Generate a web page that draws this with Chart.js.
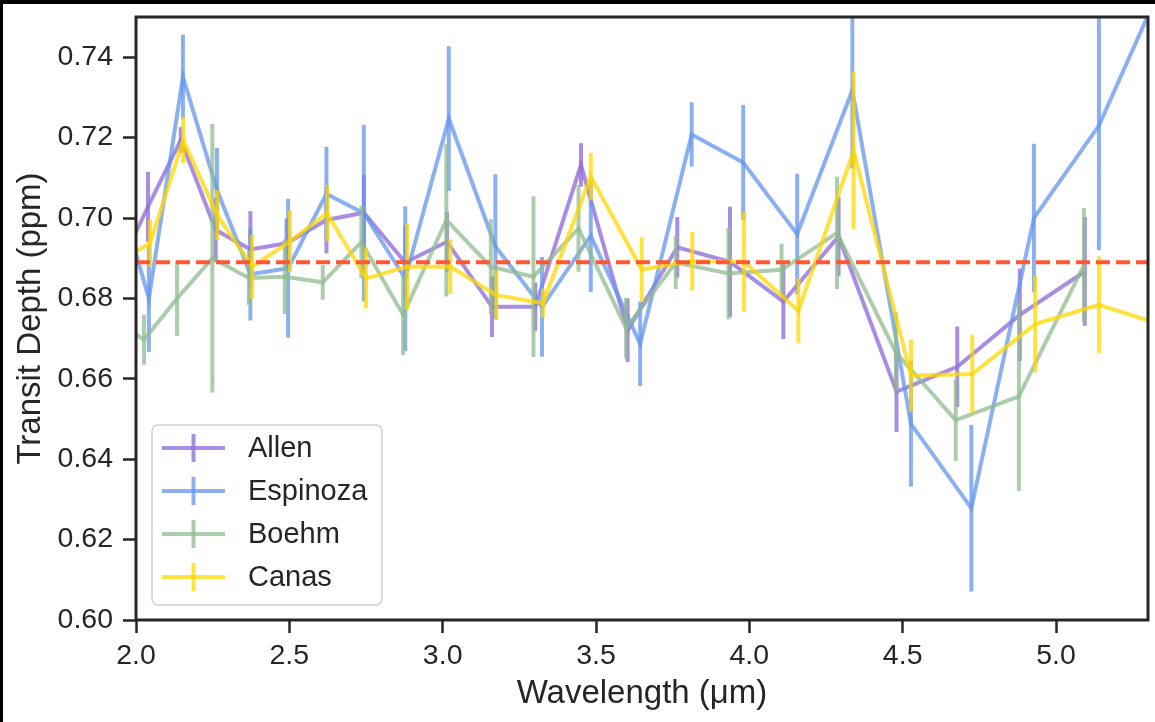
<!DOCTYPE html>
<html>
<head>
<meta charset="utf-8">
<script src="https://cdn.jsdelivr.net/npm/chart.js@4.4.1/dist/chart.umd.min.js"></script>
<style>
  html, body { margin: 0; padding: 0; background: #fff; }
  #wrap { position: relative; width: 1155px; height: 722px; overflow: hidden; background: #fff; }
  #wrap canvas { position: absolute; left: 0; top: 0; }
  .band-top { position: absolute; left: 0; top: 0; width: 1155px; height: 4px; background: #000; }
  .band-left { position: absolute; left: 0; top: 0; width: 3px; height: 722px; background: #000; }
</style>
</head>
<body>
<div id="wrap">
  <canvas id="spectrum" width="1155" height="722"></canvas>
  <div class="band-top"></div>
  <div class="band-left"></div>
</div>
<script>
// Transit depth per wavelength bin, four independent reductions
const allenWave  = [1.935, 2.039, 2.146, 2.260, 2.373, 2.491, 2.621, 2.743, 2.878, 3.014, 3.161, 3.302, 3.451, 3.603, 3.765, 3.937, 4.111, 4.291, 4.480, 4.678, 4.882, 5.094];
const allenDepth = [0.686, 0.7028, 0.7194, 0.697, 0.6922, 0.6937, 0.6995, 0.7013, 0.6889, 0.6941, 0.6779, 0.6779, 0.7132, 0.6721, 0.6927, 0.6891, 0.6792, 0.6954, 0.6568, 0.6630, 0.6759, 0.6867];
const allenErr   = [0.008, 0.0087, 0.0032, 0.008, 0.0095, 0.0062, 0.0083, 0.0094, 0.0092, 0.0075, 0.0075, 0.006, 0.0054, 0.0079, 0.0075, 0.0137, 0.0093, 0.0098, 0.010, 0.010, 0.0115, 0.0135];

const espinozaWave  = [1.940, 2.042, 2.153, 2.264, 2.373, 2.496, 2.621, 2.743, 2.878, 3.020, 3.172, 3.324, 3.483, 3.644, 3.812, 3.980, 4.156, 4.336, 4.527, 4.724, 4.928, 5.140, 5.356];
const espinozaDepth = [0.707, 0.680, 0.7351, 0.707, 0.6860, 0.6875, 0.7060, 0.7012, 0.6849, 0.7247, 0.6929, 0.6779, 0.6956, 0.6687, 0.7208, 0.7138, 0.6960, 0.7318, 0.6488, 0.6278, 0.700, 0.7230, 0.760];
const espinozaErr   = [0.012, 0.0133, 0.0105, 0.0104, 0.0115, 0.0173, 0.0117, 0.022, 0.018, 0.018, 0.018, 0.0124, 0.014, 0.0105, 0.008, 0.0143, 0.015, 0.0195, 0.0156, 0.0207, 0.0185, 0.031, 0.030];

const boehmWave  = [1.935, 2.026, 2.134, 2.249, 2.368, 2.485, 2.609, 2.735, 2.871, 3.012, 3.157, 3.296, 3.443, 3.598, 3.760, 3.932, 4.105, 4.286, 4.478, 4.673, 4.879, 5.091];
const boehmDepth = [0.6745, 0.6697, 0.680, 0.690, 0.6851, 0.6854, 0.6840, 0.6940, 0.6759, 0.6995, 0.6879, 0.6854, 0.6974, 0.6726, 0.6889, 0.6862, 0.6871, 0.6963, 0.6665, 0.6497, 0.6556, 0.6883];
const boehmErr   = [0.008, 0.0062, 0.0093, 0.0334, 0.0068, 0.0093, 0.0043, 0.009, 0.010, 0.019, 0.0118, 0.020, 0.0108, 0.0075, 0.0066, 0.0114, 0.0065, 0.014, 0.010, 0.0102, 0.0235, 0.0142];

const canasWave  = [1.940, 2.046, 2.154, 2.265, 2.379, 2.502, 2.623, 2.750, 2.884, 3.025, 3.175, 3.327, 3.483, 3.649, 3.814, 3.983, 4.160, 4.340, 4.527, 4.727, 4.932, 5.140, 5.356];
const canasDepth = [0.689, 0.6937, 0.7194, 0.7007, 0.6879, 0.6942, 0.7012, 0.6850, 0.6879, 0.6879, 0.6808, 0.6788, 0.7103, 0.6872, 0.6893, 0.6891, 0.6769, 0.7167, 0.6608, 0.6612, 0.6736, 0.6784, 0.6732];
const canasErr   = [0.006, 0.0058, 0.0058, 0.0062, 0.008, 0.0077, 0.007, 0.0075, 0.0108, 0.0068, 0.0062, 0.0036, 0.0059, 0.008, 0.0073, 0.0124, 0.0081, 0.0196, 0.009, 0.0098, 0.012, 0.012, 0.012];

// Mean transit depth, drawn as a dashed horizontal reference
const meanDepth = [0.689, 0.689];
const waveRange = [2.0, 5.3];

const waveTicks  = [2.0, 2.5, 3.0, 3.5, 4.0, 4.5, 5.0];
const depthTicks = [0.60, 0.62, 0.64, 0.66, 0.68, 0.70, 0.72, 0.74];
const depthRange = [0.60, 0.75];

const seriesNames = ['Allen', 'Espinoza', 'Boehm', 'Canas'];
const seriesColors = ['rgba(147,112,219,0.8)', 'rgba(100,149,237,0.75)', 'rgba(143,188,143,0.75)', 'rgba(255,215,0,0.75)'];

const FONT = "'Liberation Sans', Arial, Helvetica, sans-serif";
const INK = '#262626';
const LINE_W = 4;

function points(xs, ys) { return xs.map((x, i) => ({ x, y: ys[i] })); }

const series = [
  { wave: allenWave, depth: allenDepth, err: allenErr },
  { wave: espinozaWave, depth: espinozaDepth, err: espinozaErr },
  { wave: boehmWave, depth: boehmDepth, err: boehmErr },
  { wave: canasWave, depth: canasDepth, err: canasErr }
];

const datasets = series.map((s, i) => ({
  label: seriesNames[i],
  data: points(s.wave, s.depth),
  errors: s.err,
  borderColor: seriesColors[i],
  backgroundColor: seriesColors[i],
  borderWidth: LINE_W,
  pointRadius: 0,
  tension: 0,
  order: 4 - i
}));

datasets.push({
  label: 'mean',
  data: points(waveRange, meanDepth),
  borderColor: '#ff5733',
  borderWidth: 4,
  borderDash: [14, 6],
  pointRadius: 0,
  order: 0
});

// Vertical error bars for each series, layered with their own line
const errorBars = {
  id: 'errorBars',
  afterDatasetDraw(chart, args) {
    const ds = chart.data.datasets[args.index];
    if (!ds.errors) return;
    const { ctx, chartArea: a, scales: { x, y } } = chart;
    ctx.save();
    ctx.beginPath();
    ctx.rect(a.left, a.top, a.right - a.left, a.bottom - a.top);
    ctx.clip();
    ctx.strokeStyle = ds.borderColor;
    ctx.lineWidth = ds.borderWidth;
    ctx.lineCap = 'butt';
    ds.data.forEach((p, i) => {
      const px = x.getPixelForValue(p.x);
      ctx.beginPath();
      ctx.moveTo(px, y.getPixelForValue(p.y - ds.errors[i]));
      ctx.lineTo(px, y.getPixelForValue(p.y + ds.errors[i]));
      ctx.stroke();
    });
    ctx.restore();
  }
};

// Four-sided axes frame
const frame = {
  id: 'frame',
  afterDatasetsDraw(chart) {
    const { ctx, chartArea: a } = chart;
    ctx.save();
    ctx.strokeStyle = INK;
    ctx.lineWidth = 3;
    ctx.strokeRect(a.left, a.top, a.right - a.left, a.bottom - a.top);
    ctx.restore();
  }
};

// Legend box in the lower-left corner with errorbar handles
const legendBox = {
  id: 'legendBox',
  afterDraw(chart) {
    const { ctx, chartArea: a } = chart;
    const left = a.left + 16, top = a.top + 408, w = 230, h = 180, r = 6;
    ctx.save();
    ctx.beginPath();
    ctx.moveTo(left + r, top);
    ctx.arcTo(left + w, top, left + w, top + h, r);
    ctx.arcTo(left + w, top + h, left, top + h, r);
    ctx.arcTo(left, top + h, left, top, r);
    ctx.arcTo(left, top, left + w, top, r);
    ctx.closePath();
    ctx.fillStyle = 'rgba(255,255,255,0.8)';
    ctx.fill();
    ctx.strokeStyle = '#cfcfcf';
    ctx.lineWidth = 1.5;
    ctx.stroke();
    ctx.font = '29px ' + FONT;
    ctx.textBaseline = 'middle';
    ctx.textAlign = 'left';
    seriesNames.forEach((name, i) => {
      const cy = top + 23 + i * 43;
      ctx.strokeStyle = seriesColors[i];
      ctx.lineWidth = LINE_W;
      ctx.beginPath();
      ctx.moveTo(left + 10, cy);
      ctx.lineTo(left + 73, cy);
      ctx.stroke();
      ctx.beginPath();
      ctx.moveTo(left + 41.5, cy - 14);
      ctx.lineTo(left + 41.5, cy + 14);
      ctx.stroke();
      ctx.fillStyle = INK;
      ctx.fillText(name, left + 96, cy + 1);
    });
    ctx.restore();
  }
};

const tickFont = { family: FONT, size: 28.5 };
const titleFont = { family: FONT, size: 33 };

new Chart(document.getElementById('spectrum'), {
  type: 'line',
  data: { datasets },
  options: {
    responsive: false,
    animation: false,
    devicePixelRatio: 1,
    layout: { padding: { left: 0, top: 17, right: 7, bottom: 0 } },
    plugins: { legend: { display: false }, tooltip: { enabled: false } },
    scales: {
      x: {
        type: 'linear',
        min: waveRange[0],
        max: waveRange[1],
        afterBuildTicks: s => { s.ticks = waveTicks.map(v => ({ value: v })); },
        afterFit: s => { s.height = 102; s.paddingLeft = 0; s.paddingRight = 0; },
        ticks: { callback: v => Number(v).toFixed(1), font: tickFont, color: INK, padding: 6, maxRotation: 0, autoSkip: false },
        grid: { drawOnChartArea: false, tickLength: 13, tickWidth: 2.5, tickColor: INK },
        border: { display: false },
        title: { display: true, text: 'Wavelength (μm)', font: titleFont, color: INK, padding: { top: 0, bottom: 8 } }
      },
      y: {
        type: 'linear',
        min: depthRange[0],
        max: depthRange[1],
        afterBuildTicks: s => { s.ticks = depthTicks.map(v => ({ value: v })); },
        afterFit: s => { s.width = 136; s.paddingTop = 0; s.paddingBottom = 0; },
        ticks: { callback: v => Number(v).toFixed(2), font: tickFont, color: INK, padding: 10, autoSkip: false },
        grid: { drawOnChartArea: false, tickLength: 13, tickWidth: 2.5, tickColor: INK },
        border: { display: false },
        title: { display: true, text: 'Transit Depth (ppm)', font: titleFont, color: INK, padding: { top: 11, bottom: 0 } }
      }
    }
  },
  plugins: [errorBars, frame, legendBox]
});
</script>
</body>
</html>
